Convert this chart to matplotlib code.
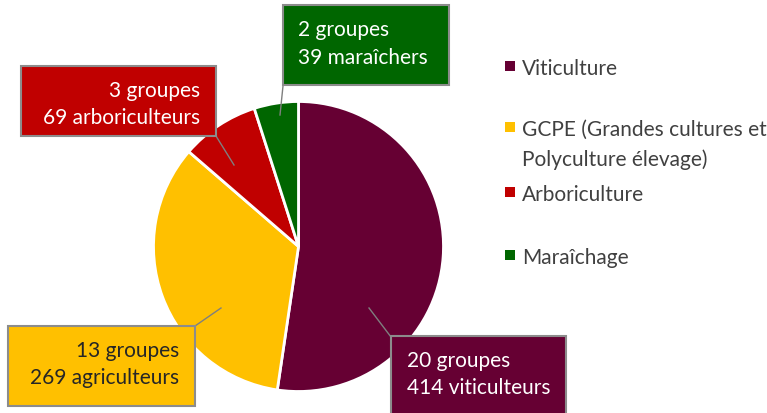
import matplotlib.pyplot as plt
from matplotlib.patches import Rectangle

# Data
categories = ['Viticulture', 'GCPE (Grandes cultures et\nPolyculture élevage)',
              'Arboriculture', 'Maraîchage']
farmers = [414, 269, 69, 39]
groups = [20, 13, 3, 2]
nouns = ['viticulteurs', 'agriculteurs', 'arboriculteurs', 'maraîchers']

# Style
COLORS = ['#660033', '#FFC000', '#C00000', '#006600']
TEXT_COLORS = ['white', '#262626', 'white', 'white']
FONT = 'Lato'
plt.rcParams['font.family'] = [FONT, 'DejaVu Sans']

W, H = 767, 414
fig = plt.figure(figsize=(W / 100, H / 100), dpi=100)
ax = fig.add_axes([0, 0, 1, 1])

# pixel coordinates, y going down -> counterclock in data = clockwise on screen
center = (298.5, 247.5)
radius = 145
wedges, _ = ax.pie(farmers, colors=COLORS, startangle=-90, counterclock=True,
                   center=center, radius=radius, frame=True,
                   wedgeprops=dict(edgecolor='white', linewidth=2))
ax.set_xlim(0, W)
ax.set_ylim(H, 0)
ax.axis('off')

# label boxes: (x0, y0, x1, y1), text anchor, alignment, leader (box pt, pie pt)
boxes = [
    ((391, 337, 566, 430), 407, 'left', ((391, 338), (369, 309))),
    ((8, 327, 195, 407), 179, 'right', ((195, 327), (221, 309))),
    ((21, 67, 216, 137), 200, 'right', ((216, 137), (234, 166))),
    ((283, 6, 449, 86), 298, 'left', ((283, 87), (280, 116))),
]
for i, ((x0, y0, x1, y1), tx, ha, leader) in enumerate(boxes):
    ax.add_patch(Rectangle((x0, y0), x1 - x0, y1 - y0, facecolor=COLORS[i],
                           edgecolor='#8c8c8c', linewidth=1.5, zorder=3))
    (lx0, ly0), (lx1, ly1) = leader
    ax.plot([lx0, lx1], [ly0, ly1], color='#7f7f7f', lw=1, zorder=2)
    lines = [f'{groups[i]} groupes', f'{farmers[i]} {nouns[i]}']
    for k, s in enumerate(lines):
        ax.text(tx, y0 + 30 + k * 27.5, s, ha=ha, va='baseline', fontsize=15,
                color=TEXT_COLORS[i], zorder=4)

# legend
leg_y = [[67], [128, 158], [193], [256]]
for i, lab in enumerate(categories):
    ax.add_patch(Rectangle((505, leg_y[i][0] - 5), 10, 10, facecolor=COLORS[i],
                           edgecolor='none'))
    for y, part in zip(leg_y[i], lab.split('\n')):
        ax.text(522, y, part, ha='left', va='center_baseline',
                fontsize=15, color='#404040')

plt.savefig('out.png', dpi=100)
